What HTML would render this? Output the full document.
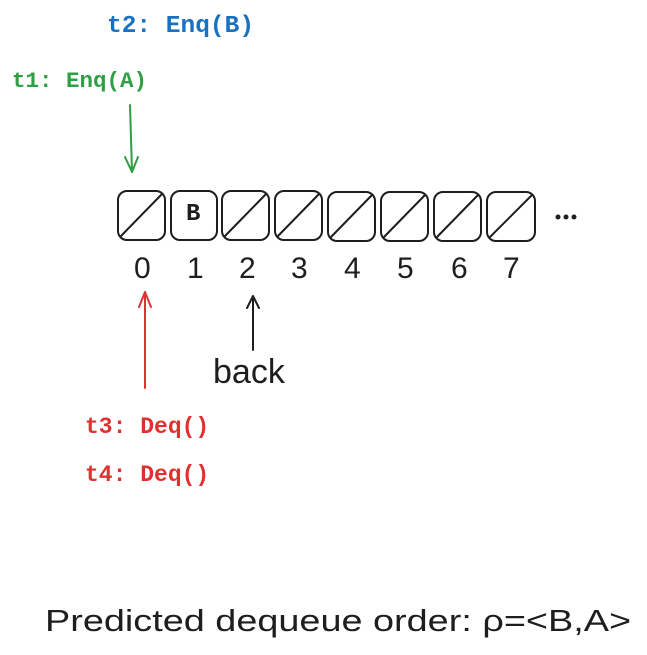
<html><body style="margin:0;width:647px;height:655px;background:#fff;position:relative;overflow:hidden;font-family:'Liberation Mono',monospace">
<svg width="647" height="655" style="position:absolute;left:0;top:0" fill="none" stroke-linecap="round" stroke-linejoin="round">
<g stroke="#1e1e1e" stroke-width="2">
<rect x="118" y="191" width="47" height="49" rx="9"/><line x1="121" y1="236" x2="162" y2="194"/>
<rect x="171" y="191" width="46" height="49" rx="9"/>
<rect x="222" y="191" width="47" height="49" rx="9"/><line x1="225" y1="236" x2="266" y2="194"/>
<rect x="275" y="191" width="47" height="49" rx="9"/><line x1="278" y1="236" x2="319" y2="194"/>
<rect x="328" y="192" width="47" height="49" rx="9"/><line x1="331" y1="237" x2="372" y2="195"/>
<rect x="381" y="192" width="47" height="49" rx="9"/><line x1="384" y1="237" x2="425" y2="195"/>
<rect x="434" y="192" width="47" height="49" rx="9"/><line x1="437" y1="237" x2="478" y2="195"/>
<rect x="487" y="192" width="48" height="49" rx="9"/><line x1="490" y1="237" x2="532" y2="195"/>
<path d="M253 350 L253 296 M247 308 L253 296 L259 308"/>
</g>
<g fill="#1e1e1e"><circle cx="558" cy="217" r="2.5"/><circle cx="566" cy="217" r="2.5"/><circle cx="574" cy="217" r="2.5"/></g>
<path d="M130 105 L132 172 M125 157 L132 172 L138 157" stroke="#2f9e44" stroke-width="2"/>
<path d="M145 388 L145 292 M139 307 L145 292 L151 307" stroke="#e03131" stroke-width="2"/>
</svg>
<div style="position:absolute;left:186px;top:201px;font-size:24px;font-weight:bold;color:#1e1e1e">B</div>
<div style="position:absolute;top:252px;left:0;font-family:'Liberation Sans',sans-serif;font-size:30px;color:#1e1e1e">
<span style="position:absolute;left:134px">0</span><span style="position:absolute;left:187px">1</span><span style="position:absolute;left:239px">2</span><span style="position:absolute;left:291px">3</span><span style="position:absolute;left:344px">4</span><span style="position:absolute;left:397px">5</span><span style="position:absolute;left:451px">6</span><span style="position:absolute;left:503px">7</span></div>
<div style="position:absolute;left:107px;top:13px;font-size:24.5px;font-weight:bold;color:#1971c2">t2: Enq(B)</div>
<div style="position:absolute;left:12px;top:68px;font-size:22.5px;font-weight:bold;color:#2f9e44">t1: Enq(A)</div>
<div style="position:absolute;left:213px;top:353px;font-family:'Liberation Sans',sans-serif;font-size:34px;color:#1e1e1e">back</div>
<div style="position:absolute;left:85px;top:414px;font-size:23px;font-weight:bold;color:#e03131">t3: Deq()</div>
<div style="position:absolute;left:85px;top:462px;font-size:23px;font-weight:bold;color:#e03131">t4: Deq()</div>
<div style="position:absolute;left:45px;top:603px;font-family:'Liberation Sans',sans-serif;font-size:31px;color:#1e1e1e;white-space:nowrap;transform-origin:0 0;transform:scaleX(1.22)">Predicted dequeue order: ρ=&lt;B,A&gt;</div>
</body></html>
